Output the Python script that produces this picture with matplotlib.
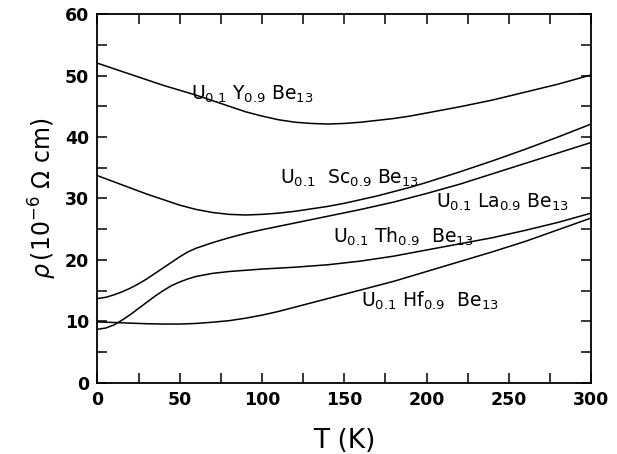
import numpy as np
import matplotlib
matplotlib.use('Agg')
import matplotlib.pyplot as plt
from matplotlib.ticker import MultipleLocator

# resistivity curves rho(T)
T_y = [0, 10, 20, 30, 40, 50, 60, 70, 80, 90, 100, 110, 120, 130, 140, 150, 160, 170, 180, 190,
       200, 220, 240, 260, 280, 300]
rho_y = [52.0, 51.1, 50.2, 49.3, 48.4, 47.6, 46.8, 45.9, 45.0, 44.1, 43.4, 42.8, 42.4, 42.2, 42.1,
         42.2, 42.4, 42.7, 43.0, 43.4, 43.9, 44.9, 46.0, 47.3, 48.6, 50.1]

T_sc = [0, 10, 20, 30, 40, 50, 60, 70, 80, 90, 100, 110, 120, 130, 140, 150, 160, 170, 180, 190,
        200, 220, 240, 260, 280, 300]
rho_sc = [33.7, 32.7, 31.7, 30.7, 29.8, 28.9, 28.2, 27.7, 27.4, 27.3, 27.4, 27.6, 27.9, 28.3, 28.7,
          29.2, 29.8, 30.4, 31.1, 31.8, 32.6, 34.3, 36.1, 38.0, 40.0, 42.1]

T_la = [0, 5, 10, 15, 20, 25, 30, 35, 40, 45, 50, 55, 60, 70, 80, 90, 100, 120, 140, 160, 180,
        200, 220, 240, 260, 280, 300]
rho_la = [13.7, 13.9, 14.3, 14.8, 15.4, 16.1, 16.9, 17.8, 18.7, 19.6, 20.5, 21.3, 21.9, 22.8, 23.6,
          24.3, 24.9, 26.0, 27.1, 28.2, 29.4, 30.8, 32.3, 34.0, 35.7, 37.4, 39.1]

T_th = [0, 5, 10, 15, 20, 25, 30, 35, 40, 45, 50, 55, 60, 70, 80, 90, 100, 120, 140, 160, 180,
        200, 220, 240, 260, 280, 300]
rho_th = [8.7, 8.9, 9.4, 10.2, 11.1, 12.1, 13.1, 14.1, 15.0, 15.8, 16.4, 16.9, 17.3, 17.8, 18.1,
          18.3, 18.5, 18.8, 19.2, 19.8, 20.6, 21.6, 22.6, 23.6, 24.8, 26.1, 27.6]

T_hf = [0, 10, 20, 30, 40, 50, 60, 70, 80, 90, 100, 110, 120, 130, 140, 150, 160, 170, 180, 190,
        200, 220, 240, 260, 280, 300]
rho_hf = [9.9, 9.8, 9.7, 9.6, 9.55, 9.55, 9.65, 9.85, 10.1, 10.5, 11.0, 11.6, 12.3, 13.0, 13.7,
          14.4, 15.1, 15.8, 16.5, 17.3, 18.1, 19.7, 21.3, 23.0, 24.9, 26.8]

labels = [r'U$_{0.1}$ Y$_{0.9}$ Be$_{13}$',
          r'U$_{0.1}$  Sc$_{0.9}$ Be$_{13}$',
          r'U$_{0.1}$ La$_{0.9}$ Be$_{13}$',
          r'U$_{0.1}$ Th$_{0.9}$  Be$_{13}$',
          r'U$_{0.1}$ Hf$_{0.9}$  Be$_{13}$']
label_pos = [(57, 46.9), (111, 33.2), (206, 29.3), (143, 23.8), (160, 13.4)]

fig = plt.figure(figsize=(6.17, 4.54), dpi=100)
ax = fig.add_axes([0.158, 0.157, 0.8, 0.812])

for T, r in [(T_y, rho_y), (T_sc, rho_sc), (T_la, rho_la), (T_th, rho_th), (T_hf, rho_hf)]:
    ax.plot(T, r, color='black', lw=1.1, solid_joinstyle='round')

for s, (x, y) in zip(labels, label_pos):
    ax.text(x, y, s, fontsize=13.5, color='black', va='center', ha='left')

ax.set_xlim(0, 300)
ax.set_ylim(0, 60)
ax.xaxis.set_major_locator(MultipleLocator(50))
ax.xaxis.set_minor_locator(MultipleLocator(25))
ax.yaxis.set_major_locator(MultipleLocator(10))
ax.yaxis.set_minor_locator(MultipleLocator(5))
ax.tick_params(which='both', direction='in', top=True, right=True, width=1.1)
ax.tick_params(which='major', length=7, labelsize=12.5, pad=6)
ax.tick_params(which='minor', length=7)
for lab in ax.get_xticklabels() + ax.get_yticklabels():
    lab.set_fontweight('bold')
for sp in ax.spines.values():
    sp.set_linewidth(1.3)

ax.set_xlabel('T (K)', fontsize=19, labelpad=14)
ax.set_ylabel(r'$\rho\,$(10$^{-6}$ $\Omega$ cm)', fontsize=17, labelpad=4)

fig.savefig('out.png', dpi=100)
